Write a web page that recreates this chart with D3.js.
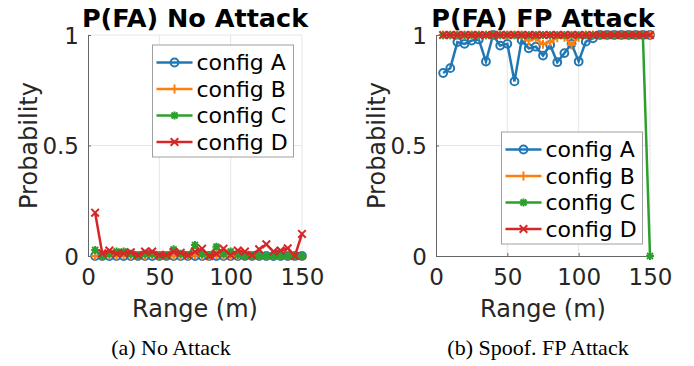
<!DOCTYPE html>
<html>
<head>
<meta charset="utf-8">
<script src="https://cdn.jsdelivr.net/npm/d3@7"></script>
<style>
  body { margin: 0; background: #fff; }
  svg { display: block; }
</style>
</head>
<body>
<svg id="chart" width="694" height="366"></svg>
<script>
// ranges in metres, same for both panels
const ranges = [5, 10, 15, 20, 25, 30, 35, 40, 45, 50, 55, 60, 65, 70, 75,
  80, 85, 90, 95, 100, 105, 110, 115, 120, 125, 130, 135, 140, 145, 150];

const seriesNames = ['config A', 'config B', 'config C', 'config D'];
const xTicks = [0, 50, 100, 150];
const yTicks = [0, 0.5, 1];

// (a) No Attack
const noAttackA = [0, 0, 0, 0, 0, 0, 0, 0, 0, 0, 0, 0, 0, 0, 0,
  0, 0, 0, 0, 0, 0, 0, 0, 0, 0, 0, 0, 0, 0, 0];
const noAttackB = [0, 0, 0.005, 0, 0.005, 0, 0, 0, 0.005, 0, 0, 0, 0, 0, 0.005,
  0, 0, 0.005, 0, 0, 0, 0, 0, 0, 0, 0.005, 0, 0, 0, 0];
const noAttackC = [0.027, 0, 0.01, 0.02, 0.02, 0.01, 0, 0.01, 0.01, 0, 0, 0.03, 0.01, 0.005, 0.05,
  0.01, 0.005, 0.042, 0.01, 0.02, 0.005, 0, 0, 0, 0, 0, 0, 0, 0, 0];
const noAttackD = [0.196, 0.012, 0.025, 0.01, 0.012, 0.017, 0.005, 0.02, 0.02, 0.005, 0.005, 0.018, 0.015, 0.005, 0.02,
  0.033, 0, 0.01, 0.033, 0.005, 0.025, 0.02, 0.005, 0.03, 0.053, 0.02, 0.025, 0.035, 0, 0.1];

// (b) Spoof. FP Attack
const fpAttackA = [0.828, 0.85, 0.968, 0.96, 0.975, 0.98, 0.88, 1, 0.952, 0.96, 0.79, 0.977, 0.94, 0.947, 0.907,
  0.955, 0.877, 0.918, 0.96, 0.88, 0.97, 0.985, 1, 1, 1, 1, 1, 1, 1, 1];
const fpAttackB = [1, 1, 1, 1, 1, 1, 1, 1, 1, 1, 1, 1, 0.975, 0.985, 0.958,
  0.97, 0.988, 0.99, 0.955, 0.99, 1, 1, 1, 1, 1, 1, 1, 1, 1, 1];
const fpAttackC = [1, 1, 1, 1, 1, 1, 1, 1, 1, 1, 1, 1, 1, 1, 1,
  1, 1, 1, 1, 1, 1, 1, 1, 1, 1, 1, 1, 1, 1, 0];
const fpAttackD = [1, 1, 1, 1, 1, 1, 1, 1, 1, 1, 1, 1, 1, 1, 1,
  1, 1, 1, 1, 1, 1, 1, 1, 1, 1, 1, 1, 1, 1, 1];

const colors = ['#1f77b4', '#ff7f0e', '#2ca02c', '#d62728'];
const markers = ['circle', 'plus', 'star', 'cross'];

const svg = d3.select('#chart');
const sans = 'DejaVu Sans, sans-serif';

// draw one marker shape at (0,0) inside g
function drawMarker(g, kind, color) {
  if (kind === 'circle') {
    g.append('circle').attr('r', 3.9).attr('fill', 'none')
      .attr('stroke', color).attr('stroke-width', 2);
  } else if (kind === 'plus') {
    g.append('path').attr('d', 'M-4.5,0H4.5M0,-4.5V4.5')
      .attr('stroke', color).attr('stroke-width', 2);
  } else if (kind === 'star') {
    g.append('path').attr('d', 'M-4,0H4M0,-4V4M-3,-3L3,3M-3,3L3,-3')
      .attr('stroke', color).attr('stroke-width', 2);
  } else {
    g.append('path').attr('d', 'M-3.8,-3.8L3.8,3.8M-3.8,3.8L3.8,-3.8')
      .attr('stroke', color).attr('stroke-width', 2);
  }
}

function panel(opts) {
  const x = d3.scaleLinear().domain([0, 150]).range([opts.left, opts.left + 214]);
  const y = d3.scaleLinear().domain([0, 1]).range([256, 35]);
  const g = svg.append('g');

  // grid
  g.append('g').selectAll('line').data(xTicks.slice(1)).join('line')
    .attr('x1', d => x(d)).attr('x2', d => x(d))
    .attr('y1', y(0)).attr('y2', y(1))
    .attr('stroke', '#e6e6e6').attr('stroke-width', 1);
  g.append('g').selectAll('line').data(yTicks.slice(1)).join('line')
    .attr('x1', x(0)).attr('x2', x(150))
    .attr('y1', d => y(d)).attr('y2', d => y(d))
    .attr('stroke', '#e6e6e6').attr('stroke-width', 1);

  // axes
  const xAxis = g.append('g').attr('transform', 'translate(0,' + y(0) + ')')
    .call(d3.axisBottom(x).tickValues(xTicks).tickSize(-3).tickPadding(8));
  const yAxis = g.append('g').attr('transform', 'translate(' + x(0) + ',0)')
    .call(d3.axisLeft(y).tickValues(yTicks).tickFormat(d3.format('')).tickSize(-3).tickPadding(9));
  [xAxis, yAxis].forEach(a => {
    a.select('.domain').attr('stroke', '#666');
    a.selectAll('.tick line').attr('stroke', '#666');
    a.selectAll('text').attr('fill', '#262626')
      .style('font-family', sans).style('font-size', '23px');
  });
  xAxis.selectAll('text').attr('dy', '0.9em');
  yAxis.selectAll('text').attr('dy', '0.36em');

  // series
  const line = d3.line().x((d, i) => x(ranges[i])).y(d => y(d));
  opts.series.forEach((vals, k) => {
    g.append('path').datum(vals).attr('d', line)
      .attr('fill', 'none').attr('stroke', colors[k]).attr('stroke-width', 2.5);
    g.append('g').selectAll('g').data(vals).join('g')
      .attr('transform', (d, i) => 'translate(' + x(ranges[i]) + ',' + y(d) + ')')
      .each(function () { drawMarker(d3.select(this), markers[k], colors[k]); });
  });

  // title and labels
  const cx = (x(0) + x(150)) / 2;
  g.append('text').attr('x', cx).attr('y', 26.5).attr('text-anchor', 'middle')
    .style('font-family', sans).style('font-size', '25.5px').style('font-weight', 'bold')
    .text(opts.title);
  g.append('text').attr('x', cx).attr('y', 317).attr('text-anchor', 'middle')
    .attr('fill', '#262626')
    .style('font-family', sans).style('font-size', '24px').text('Range (m)');
  g.append('text')
    .attr('transform', 'translate(' + (x(0) - 51) + ',' + ((y(0) + y(1)) / 2) + ') rotate(-90)')
    .attr('text-anchor', 'middle').attr('fill', '#262626')
    .style('font-family', sans).style('font-size', '24px').text('Probability');
  g.append('text').attr('x', opts.captionX).attr('y', 355).attr('text-anchor', 'middle')
    .style('font-family', 'Liberation Serif, Times New Roman, serif').style('font-size', '22px')
    .text(opts.caption);

  // legend
  const lg = g.append('g').attr('transform', 'translate(' + opts.legend[0] + ',' + opts.legend[1] + ')');
  lg.append('rect').attr('width', 141).attr('height', 112)
    .attr('fill', '#fff').attr('stroke', '#a0a0a0').attr('stroke-width', 1);
  seriesNames.forEach((name, k) => {
    const ly = 17.5 + k * 26.5;
    lg.append('line').attr('x1', 4).attr('x2', 40).attr('y1', ly).attr('y2', ly)
      .attr('stroke', colors[k]).attr('stroke-width', 2.5);
    drawMarker(lg.append('g').attr('transform', 'translate(22,' + ly + ')'), markers[k], colors[k]);
    lg.append('text').attr('x', 44).attr('y', ly).attr('dy', '0.36em')
      .style('font-family', sans).style('font-size', '22px').text(name);
  });
}

panel({
  left: 88, title: 'P(FA) No Attack', caption: '(a) No Attack', captionX: 171,
  series: [noAttackA, noAttackB, noAttackC, noAttackD], legend: [152.5, 45]
});
panel({
  left: 436, title: 'P(FA) FP Attack', caption: '(b) Spoof. FP Attack', captionX: 538,
  series: [fpAttackA, fpAttackB, fpAttackC, fpAttackD], legend: [501.5, 132]
});
</script>
</body>
</html>
